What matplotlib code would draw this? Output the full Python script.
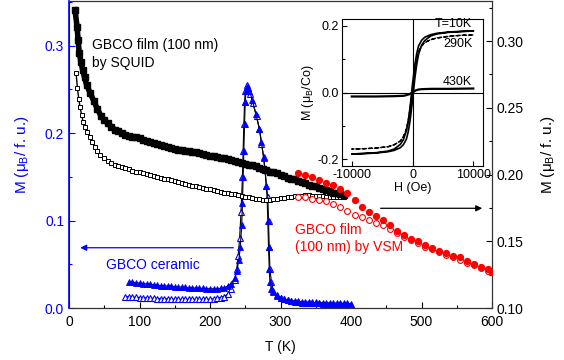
import matplotlib
matplotlib.use("Agg")
import matplotlib.pyplot as plt
from matplotlib.ticker import MultipleLocator, FormatStrFormatter

plt.rcParams['font.family'] = ['Liberation Sans', 'DejaVu Sans']
plt.rcParams['mathtext.fontset'] = 'custom'
plt.rcParams['mathtext.rm'] = 'Liberation Sans'
plt.rcParams['mathtext.it'] = 'Liberation Sans:italic'
plt.rcParams['axes.unicode_minus'] = False

# ---------------- data ----------------
# GBCO film by SQUID, filled squares (left axis)
T_sq_f = [8.5, 11.5, 13, 14.5, 17, 19.5, 22, 25, 30, 35, 40, 45, 50, 55, 60, 65, 70, 75, 80, 85,
          90, 95, 100, 105, 110, 115, 120, 125, 130, 135, 140, 145, 150, 155, 160, 165, 170, 175,
          180, 185, 190, 195, 200, 205, 210, 215, 220, 225, 230, 235, 240, 245, 250, 255, 260,
          265, 270, 275, 280, 285, 290, 295, 300, 305, 310, 315, 320, 325, 330, 335, 340, 345,
          350, 355, 360, 365, 370, 375, 380, 385, 390]
M_sq_f = [0.341, 0.321, 0.306, 0.292, 0.281, 0.272, 0.264, 0.255, 0.246, 0.237, 0.228, 0.220,
          0.215, 0.211, 0.207, 0.204, 0.202, 0.200, 0.198, 0.197, 0.196, 0.195, 0.194, 0.192,
          0.191, 0.190, 0.189, 0.188, 0.186, 0.185, 0.184, 0.183, 0.182, 0.181, 0.181, 0.180,
          0.179, 0.178, 0.178, 0.177, 0.176, 0.175, 0.174, 0.174, 0.173, 0.172, 0.171, 0.170,
          0.169, 0.168, 0.167, 0.166, 0.165, 0.164, 0.163, 0.162, 0.160, 0.159, 0.158, 0.156,
          0.155, 0.154, 0.152, 0.151, 0.149, 0.148, 0.147, 0.145, 0.144, 0.143, 0.141, 0.140,
          0.139, 0.137, 0.136, 0.135, 0.134, 0.132, 0.131, 0.130, 0.129]

# GBCO film by SQUID, open squares (left axis)
T_sq_o = [10, 12, 14, 15.5, 18, 20, 22.5, 26, 30, 33, 37, 40, 44, 50, 55, 60, 65, 70, 75, 80, 85,
          90, 95, 100, 105, 110, 115, 120, 125, 130, 135, 140, 145, 150, 155, 160, 165, 170, 175,
          180, 185, 190, 195, 200, 205, 210, 215, 220, 225, 230, 235, 240, 245, 250, 255, 260,
          265, 270, 275, 280, 285, 290, 295, 300, 305, 310, 315, 320, 325, 330, 335, 340, 345,
          350, 355, 360, 365, 370, 375, 380, 385, 390]
M_sq_o = [0.269, 0.251, 0.2385, 0.230, 0.2206, 0.213, 0.207, 0.2015, 0.196, 0.190, 0.184, 0.180,
          0.175, 0.171, 0.168, 0.166, 0.164, 0.162, 0.161, 0.160, 0.159, 0.157, 0.156, 0.155,
          0.154, 0.153, 0.152, 0.151, 0.150, 0.149, 0.148, 0.147, 0.146, 0.145, 0.144, 0.143,
          0.142, 0.141, 0.140, 0.139, 0.138, 0.137, 0.136, 0.136, 0.135, 0.134, 0.133, 0.132,
          0.131, 0.130, 0.130, 0.129, 0.128, 0.127, 0.127, 0.126, 0.125, 0.125, 0.124, 0.124,
          0.124, 0.125, 0.125, 0.126, 0.126, 0.127, 0.127, 0.128, 0.128, 0.128, 0.129, 0.129,
          0.128, 0.128, 0.128, 0.128, 0.127, 0.127, 0.127, 0.127, 0.127, 0.127]

# GBCO ceramic, filled triangles (left axis)
T_cer_f = [85, 90, 95, 100, 105, 110, 115, 120, 125, 130, 135, 140, 145, 150, 155, 160, 165, 170,
           175, 180, 185, 190, 195, 200, 205, 210, 215, 220, 225, 230, 235, 238, 241, 243, 245,
           246, 247, 248, 249, 250, 251, 252, 254, 256, 260, 265, 270, 273, 276, 278, 280, 281,
           282, 283, 284, 285, 287, 290, 295, 300, 305, 310, 315, 320, 325, 330, 335, 340, 345,
           350, 355, 360, 365, 370, 375, 380, 385, 390, 395, 400]
M_cer_f = [0.030, 0.0295, 0.029, 0.0285, 0.028, 0.0275, 0.027, 0.0265, 0.026, 0.0257, 0.0253,
           0.025, 0.0247, 0.0244, 0.0241, 0.0238, 0.0235, 0.0232, 0.023, 0.0228, 0.0226, 0.0224,
           0.0222, 0.022, 0.022, 0.022, 0.0225, 0.023, 0.025, 0.028, 0.034, 0.042, 0.055, 0.070,
           0.095, 0.120, 0.150, 0.180, 0.210, 0.235, 0.248, 0.253, 0.252, 0.248, 0.238, 0.222,
           0.205, 0.190, 0.172, 0.158, 0.140, 0.125, 0.100, 0.070, 0.045, 0.030, 0.022, 0.018,
           0.014, 0.012, 0.010, 0.009, 0.0085, 0.008, 0.0075, 0.007, 0.007, 0.0068, 0.0065,
           0.0063, 0.006, 0.006, 0.006, 0.0058, 0.0057, 0.0056, 0.0055, 0.0055, 0.0052, 0.005]

# GBCO ceramic, open triangles (left axis)
T_cer_o = [80, 85, 90, 95, 100, 105, 110, 115, 120, 125, 130, 135, 140, 145, 150, 155, 160, 165,
           170, 175, 180, 185, 190, 195, 200, 205, 210, 215, 220, 225, 230, 235, 238, 240, 242,
           244, 246, 247, 248, 249, 250, 252, 254, 257, 261, 266, 270, 273, 276, 278, 280, 282,
           283, 284, 285, 287, 290, 295, 300, 305, 310, 315, 320, 325, 330, 335, 340, 345, 350,
           355, 360, 365, 370, 375, 380, 385, 390, 395, 400]
M_cer_o = [0.013, 0.0128, 0.0125, 0.0122, 0.012, 0.0117, 0.0115, 0.0112, 0.011, 0.0108, 0.0106,
           0.0105, 0.0104, 0.0103, 0.0102, 0.0101, 0.010, 0.010, 0.010, 0.010, 0.010, 0.010,
           0.010, 0.010, 0.010, 0.0105, 0.011, 0.012, 0.013, 0.016, 0.022, 0.032, 0.045, 0.060,
           0.080, 0.110, 0.150, 0.180, 0.210, 0.235, 0.248, 0.255, 0.252, 0.245, 0.234, 0.219,
           0.205, 0.188, 0.173, 0.158, 0.139, 0.127, 0.100, 0.070, 0.045, 0.030, 0.020, 0.015,
           0.012, 0.010, 0.009, 0.008, 0.007, 0.0065, 0.006, 0.006, 0.0058, 0.0056, 0.0055,
           0.0053, 0.005, 0.005, 0.0048, 0.0046, 0.0045, 0.0044, 0.0042, 0.0041, 0.004]

# GBCO film by VSM (right axis)
T_vsm_f = [325, 335, 345, 355, 365, 375, 385, 395, 405, 415, 425, 435, 445, 455, 465, 475, 485,
           495, 505, 515, 525, 535, 545, 555, 565, 575, 585, 595, 600]
M_vsm_f = [0.201, 0.200, 0.198, 0.196, 0.194, 0.192, 0.189, 0.186, 0.181, 0.176, 0.172, 0.169,
           0.166, 0.162, 0.158, 0.155, 0.152, 0.150, 0.147, 0.145, 0.143, 0.141, 0.139, 0.138,
           0.135, 0.133, 0.131, 0.129, 0.127]
T_vsm_o = [325, 335, 345, 355, 365, 375, 385, 395, 405, 415, 425, 435, 445, 455, 465, 475, 485,
           495, 505, 515, 525, 535, 545, 555, 565, 575, 585, 595]
M_vsm_o = [0.183, 0.183, 0.182, 0.181, 0.180, 0.178, 0.176, 0.173, 0.170, 0.168, 0.166, 0.164,
           0.162, 0.159, 0.156, 0.153, 0.151, 0.149, 0.146, 0.144, 0.142, 0.140, 0.138, 0.136,
           0.134, 0.132, 0.130, 0.128]

# Inset hysteresis loops
H_loop = [10000, 8000, 6000, 4000, 3000, 2000, 1500, 1000, 700, 400, 200, 0, -200, -400, -700,
          -1000, -1500, -2000, -3000, -4000, -6000, -8000, -10000,
          -8000, -6000, -4000, -3000, -2000, -1500, -1000, -700, -400, -200, 0, 200, 400, 700,
          1000, 1500, 2000, 3000, 4000, 6000, 8000, 10000]
M_10K = [0.185, 0.184, 0.182, 0.178, 0.174, 0.166, 0.157, 0.140, 0.118, 0.085, 0.055, 0.025,
         -0.010, -0.045, -0.085, -0.115, -0.142, -0.156, -0.170, -0.176, -0.181, -0.183, -0.185,
         -0.184, -0.182, -0.178, -0.174, -0.166, -0.157, -0.140, -0.118, -0.085, -0.055, -0.025,
         0.010, 0.045, 0.085, 0.115, 0.142, 0.156, 0.170, 0.176, 0.181, 0.183, 0.185]
M_290K = [0.173, 0.172, 0.169, 0.164, 0.159, 0.150, 0.140, 0.123, 0.100, 0.068, 0.040, 0.012,
          -0.018, -0.050, -0.085, -0.110, -0.133, -0.146, -0.157, -0.163, -0.167, -0.169, -0.170,
          -0.169, -0.167, -0.163, -0.157, -0.146, -0.133, -0.110, -0.085, -0.050, -0.018, 0.012,
          0.040, 0.068, 0.100, 0.123, 0.140, 0.150, 0.159, 0.164, 0.169, 0.172, 0.173]
H_430K = [-10000, -6000, -3000, -1500, -1000, -500, 0, 500, 1000, 1500, 3000, 6000, 10000]
M_430K = [-0.012, -0.012, -0.011, -0.010, -0.008, -0.005, 0.0, 0.006, 0.009, 0.010, 0.011,
          0.011, 0.012]

BLUE = '#0000FF'
RED = '#FF0000'

fig = plt.figure(figsize=(5.64, 3.60), dpi=100)
ax = fig.add_axes([69/564, 1-308/360, 423/564, 307/360])
ax2 = ax.twinx()

# ceramic
ax.plot(T_cer_o, M_cer_o, '-', color='k', lw=0.8, marker='^', ms=4.2, mfc='white',
        mec=BLUE, mew=0.8, zorder=3)
ax.plot(T_cer_f, M_cer_f, '-', color='k', lw=0.8, marker='^', ms=4.2, mfc=BLUE,
        mec=BLUE, mew=0.6, zorder=3)
# SQUID film
ax.plot(T_sq_o, M_sq_o, '-', color='k', lw=1.0, marker='s', ms=3.4, mfc='white',
        mec='k', mew=0.7, zorder=4)
ax.plot(T_sq_f, M_sq_f, '-', color='k', lw=4.0, marker='s', ms=3.8, mfc='k',
        mec='k', zorder=4)
# VSM film
ax2.plot(T_vsm_o, M_vsm_o, 'o', ms=4.2, mfc='white', mec=RED, mew=0.8, zorder=3)
ax2.plot(T_vsm_f, M_vsm_f, 'o', ms=4.2, mfc=RED, mec=RED, zorder=3)

ax.set_xlim(0, 600)
ax.set_ylim(0, 0.351)
ax2.set_ylim(0.10, 0.330)

ax.xaxis.set_major_locator(MultipleLocator(100))
ax.xaxis.set_minor_locator(MultipleLocator(50))
ax.yaxis.set_major_locator(MultipleLocator(0.1))
ax.yaxis.set_minor_locator(MultipleLocator(0.05))
ax.yaxis.set_major_formatter(FormatStrFormatter('%.1f'))
ax2.yaxis.set_major_locator(MultipleLocator(0.05))
ax2.yaxis.set_minor_locator(MultipleLocator(0.025))
ax2.yaxis.set_major_formatter(FormatStrFormatter('%.2f'))

for a in (ax, ax2):
    a.tick_params(which='major', direction='in', length=4, width=0.8, labelsize=10)
    a.tick_params(which='minor', direction='in', length=2.5, width=0.8)
ax.tick_params(axis='y', which='both', colors=BLUE, labelcolor=BLUE)
ax.tick_params(axis='x', pad=5)
ax.spines['left'].set_color(BLUE)
ax2.spines['left'].set_color(BLUE)
ax2.spines['left'].set_linewidth(1.2)
for s in ('top', 'right', 'bottom'):
    ax2.spines[s].set_color('#333333')

ax.set_xlabel('T (K)', fontsize=10, labelpad=8)
ax.set_ylabel('M (μ$_{\\rm B}$/ f. u.)', fontsize=11, color=BLUE, labelpad=10)
ax2.set_ylabel('M (μ$_{\\rm B}$/ f. u.)', fontsize=11, color='k', labelpad=11)

# annotations
ax.text(32.6, 0.3006, 'GBCO film (100 nm)', fontsize=10, va='center', ha='left')
ax.text(32.6, 0.2806, 'by SQUID', fontsize=10, va='center', ha='left')
ax.text(52.5, 0.049, 'GBCO ceramic', fontsize=10, va='center', ha='left', color=BLUE)
ax.text(320.6, 0.089, 'GBCO film', fontsize=10, va='center', ha='left', color=RED)
ax.text(320.6, 0.0697, '(100 nm) by VSM', fontsize=10, va='center', ha='left', color=RED)
ax.annotate('', xy=(12, 0.0689), xytext=(237, 0.0689),
            arrowprops=dict(arrowstyle='-|>', color=BLUE, lw=0.9, mutation_scale=9))
ax.annotate('', xy=(590, 0.114), xytext=(438, 0.114),
            arrowprops=dict(arrowstyle='-|>', color='k', lw=0.9, mutation_scale=9))

# inset
axi = fig.add_axes([342/564, 1-166/360, 141/564, 147/360])
axi.axhline(0, color='k', lw=0.8)
axi.axvline(0, color='k', lw=0.8)
axi.plot(H_loop, M_10K, '-', color='k', lw=1.2)
axi.plot(H_loop, M_290K, '--', color='k', lw=1.0, dashes=(3, 1.5))
axi.plot(H_430K, M_430K, '-', color='k', lw=1.6)
axi.set_xlim(-11600, 11600)
axi.set_ylim(-0.221, 0.221)
axi.set_xticks([-10000, 0, 10000])
axi.set_yticks([-0.2, 0.0, 0.2])
axi.yaxis.set_minor_locator(MultipleLocator(0.1))
axi.yaxis.set_major_formatter(FormatStrFormatter('%.1f'))
axi.tick_params(which='major', direction='in', length=3.5, width=0.8, labelsize=9, pad=2)
axi.tick_params(which='minor', direction='in', length=2, width=0.8)
axi.set_xlabel('H (Oe)', fontsize=9, labelpad=1)
axi.set_ylabel('M (μ$_{\\rm B}$/Co)', fontsize=9, labelpad=1)
axi.text(9836, 0.206, 'T=10K', fontsize=9, ha='right', va='center')
axi.text(9836, 0.145, '290K', fontsize=9, ha='right', va='center')
axi.text(9836, 0.033, '430K', fontsize=9, ha='right', va='center')

fig.savefig('out.png', dpi=100)
